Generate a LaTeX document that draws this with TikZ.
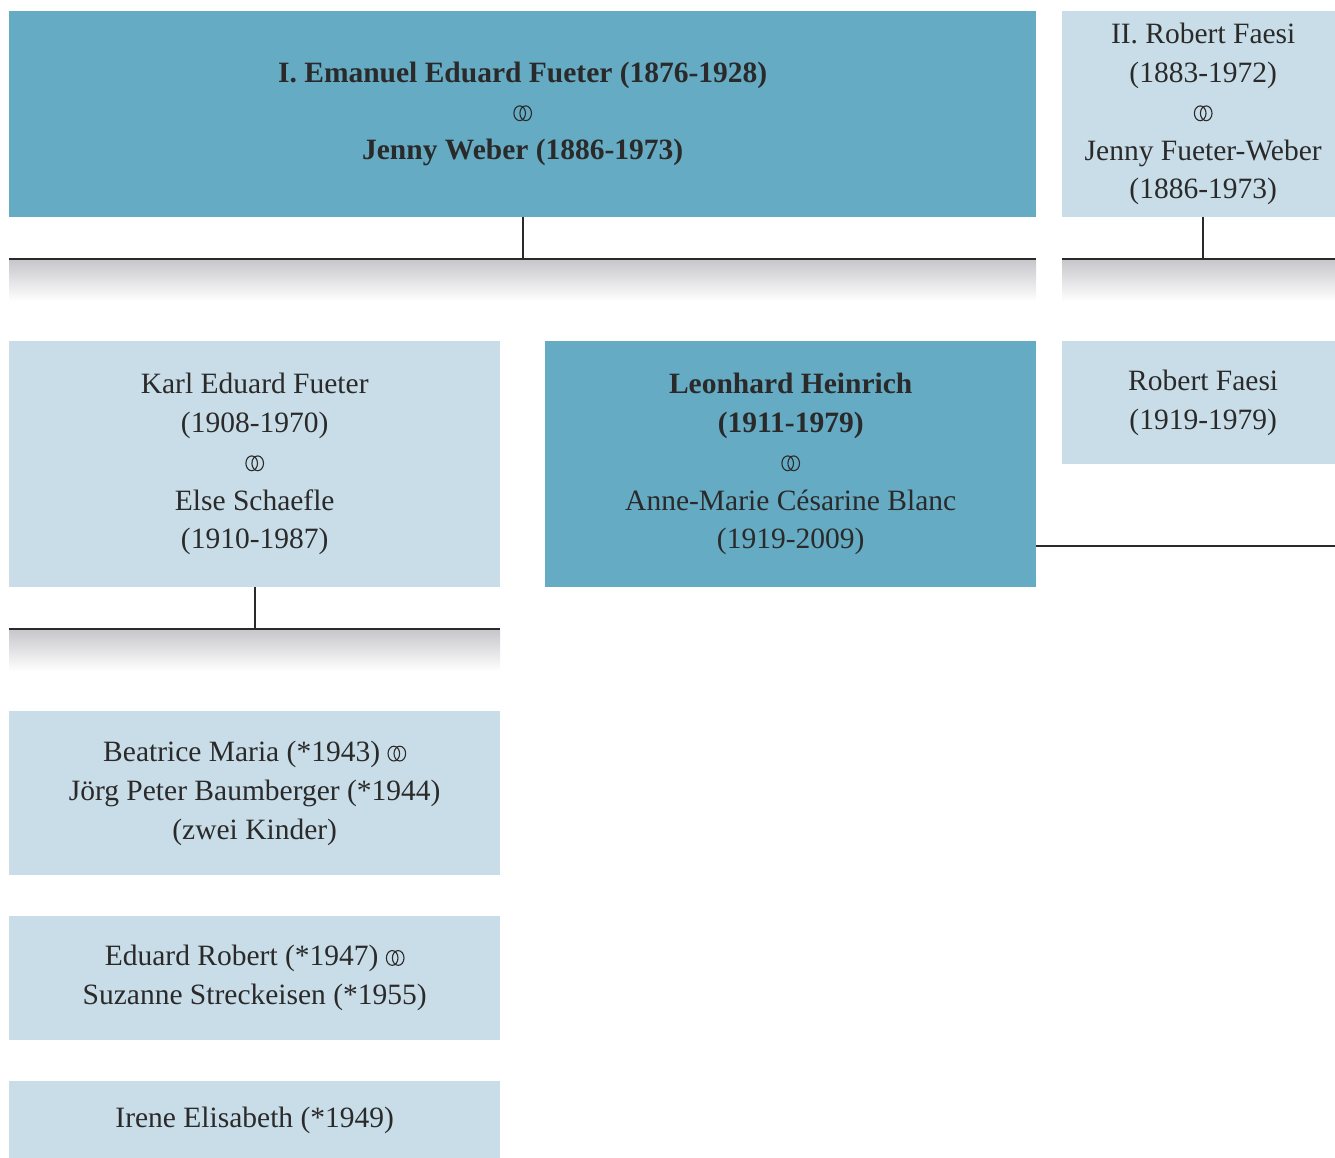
\documentclass[tikz,border=0pt]{standalone}
\usepackage{fontspec}
\setmainfont{Liberation Serif}
\definecolor{darkbox}{HTML}{65ABC3}
\definecolor{lightbox}{HTML}{C9DDE8}
\definecolor{txt}{HTML}{2A2A2A}
\definecolor{shadetop}{RGB}{198,198,203}
\newcommand{\mar}{\tikz[baseline=0pt,x=1pt,y=1pt]{%
  \draw[txt,line width=1.1pt] (6.5,8) ellipse (5.8 and 7.4);
  \draw[txt,line width=1.1pt] (12.5,8) ellipse (5.8 and 7.4);}}
\begin{document}
\begin{tikzpicture}[x=1pt,y=-1pt,
  box/.style={anchor=north west, inner sep=0pt, align=center, text=txt,
              font=\fontsize{29.5}{38.7}\selectfont},
  dbox/.style={box, fill=darkbox},
  lbox/.style={box, fill=lightbox},
  shadebar/.style={anchor=north west, inner sep=0pt, top color=shadetop, bottom color=white, draw=none},
  conn/.style={line width=1.6pt, draw=txt}]
\useasboundingbox (0,0) rectangle (1335,1157);

% generation I
\node[dbox, minimum width=1027pt, minimum height=206pt] (A) at (9,11)
  {\bfseries I. Emanuel Eduard Fueter (1876-1928)\\ \mar \\ \bfseries Jenny Weber (1886-1973)};
\node[lbox, minimum width=282pt, minimum height=206pt] (B) at (1062,11)
  {II. Robert Faesi\\ (1883-1972)\\ \mar\\ Jenny Fueter-Weber\\ (1886-1973)};

% sibling bars
\node[shadebar, minimum width=1027pt, minimum height=42pt] (barA) at (9,259) {};
\node[shadebar, minimum width=282pt, minimum height=42pt] (barB) at (1062,259) {};
\draw[conn] (barA.north west) -- (barA.north east);
\draw[conn] (barB.north west) -- (barB.north east);
\draw[conn] (A.south) -- (A.south |- barA.north);
\draw[conn] (B.south) -- (B.south |- barB.north);

% generation II
\node[lbox, minimum width=491pt, minimum height=246pt] (C) at (9,341)
  {Karl Eduard Fueter\\ (1908-1970)\\ \mar\\ Else Schaefle\\ (1910-1987)};
\node[dbox, minimum width=491pt, minimum height=246pt] (D) at (545,341)
  {\textbf{Leonhard Heinrich}\\ \textbf{(1911-1979)}\\ \mar\\ Anne-Marie Césarine Blanc\\ (1919-2009)};
\node[lbox, minimum width=282pt, minimum height=123pt] (E) at (1062,341)
  {Robert Faesi\\ (1919-1979)};
\coordinate (Dout) at (1036,546);
\coordinate (Dend) at (1335,546);
\draw[conn, line width=1.3pt] (Dout) -- (Dend);

% bar under Karl
\node[shadebar, minimum width=491pt, minimum height=42pt] (barC) at (9,629) {};
\draw[conn] (barC.north west) -- (barC.north east);
\draw[conn] (C.south) -- (C.south |- barC.north);

% generation III
\node[lbox, minimum width=491pt, minimum height=164pt] (F) at (9,711)
  {Beatrice Maria (*1943) \mar\\ Jörg Peter Baumberger (*1944)\\ (zwei Kinder)};
\node[lbox, minimum width=491pt, minimum height=124pt] (G) at (9,916)
  {Eduard Robert (*1947) \mar\\ Suzanne Streckeisen (*1955)};
\node[lbox, minimum width=491pt, minimum height=78pt] (H) at (9,1081)
  {Irene Elisabeth (*1949)};
\end{tikzpicture}
\end{document}
